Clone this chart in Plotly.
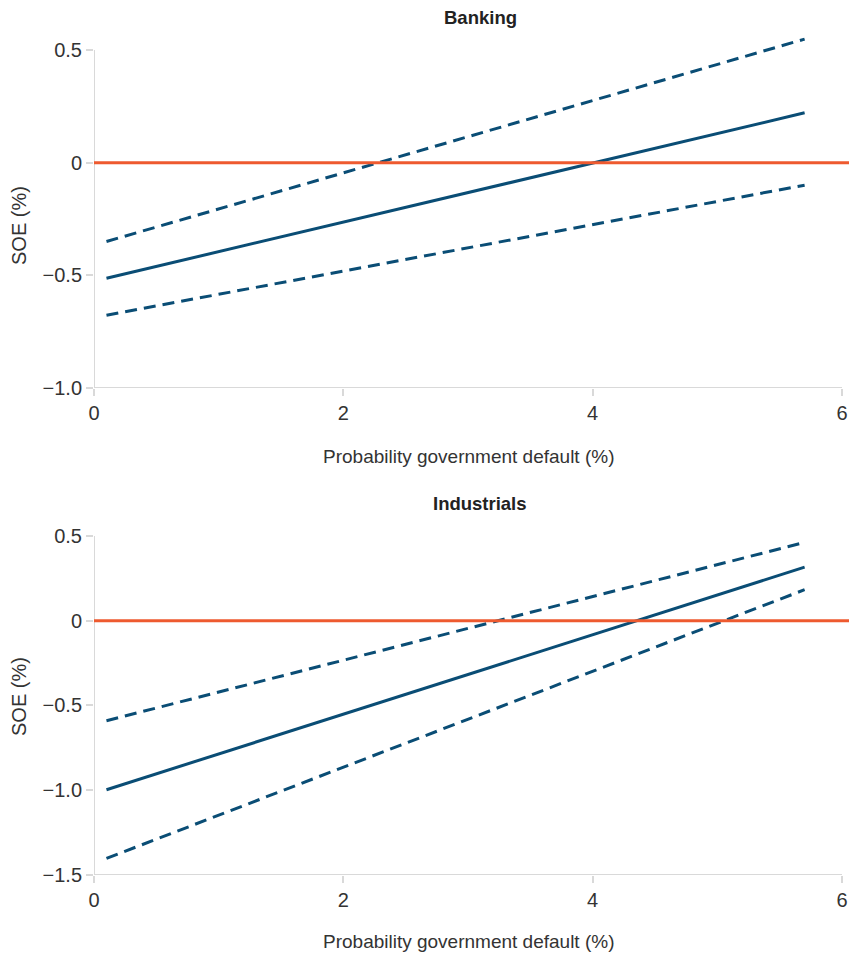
import plotly.graph_objects as go

# Data
x_pts = [0.1, 5.7]
bank_mid = [-0.513, 0.221]
bank_up = [-0.350, 0.548]
bank_lo = [-0.677, -0.100]
ind_mid = [-0.997, 0.316]
ind_up = [-0.590, 0.462]
ind_lo = [-1.402, 0.183]

panel_titles = ["Banking", "Industrials"]
x_title = "Probability government default (%)"
y_title = "SOE (%)"
x_ticks = [0, 2, 4, 6]
top_yticks = [-1.0, -0.5, 0, 0.5]
top_yticktext = ["\u22121.0", "\u22120.5", "0", "0.5"]
bot_yticks = [-1.5, -1.0, -0.5, 0, 0.5]
bot_yticktext = ["\u22121.5", "\u22121.0", "\u22120.5", "0", "0.5"]

BLUE = "#0a4d75"
ORANGE = "#ee5a2f"
GREY = "#d9d9d9"
FONT = "Liberation Sans, Arial, sans-serif"

W, H = 849, 953
L = 94
fig = go.Figure()

def add_panel(xa, ya, mid, up, lo):
    for vals, dash in [(up, "12px,7px"), (lo, "12px,7px"), (mid, "solid")]:
        fig.add_trace(go.Scatter(x=x_pts, y=vals, mode="lines", xaxis=xa, yaxis=ya,
                                 line=dict(color=BLUE, width=3, dash=dash),
                                 showlegend=False, hoverinfo="skip"))

add_panel("x", "y", bank_mid, bank_up, bank_lo)
add_panel("x2", "y2", ind_mid, ind_up, ind_lo)

def py(p):  # pixel (from top) to paper fraction
    return 1 - p / H

def pxx(p):  # pixel (from left) to paper fraction
    return (p - L) / (W - L)

tick_font = dict(size=20, color="#333333", family=FONT)
xcommon = dict(range=[0, 6.056], tickvals=x_ticks, ticks="outside", ticklen=7,
               tickcolor=GREY, tickwidth=2, showline=False, showgrid=False,
               zeroline=False, automargin=False, tickfont=tick_font)
ycommon = dict(ticks="outside", ticklen=7, tickcolor=GREY, tickwidth=2,
               showline=False, showgrid=False, zeroline=False, automargin=False,
               tickfont=tick_font)

fig.update_layout(
    width=W, height=H, autosize=False,
    margin=dict(l=L, r=0, t=0, b=0, pad=0),
    plot_bgcolor="white", paper_bgcolor="white",
    font=dict(family=FONT, size=20, color="#333333"),
    xaxis=dict(domain=[0, 1], anchor="y", **xcommon),
    yaxis=dict(domain=[py(388), py(27.4)], anchor="x", range=[-1.0, 0.6],
               tickvals=top_yticks, ticktext=top_yticktext, **ycommon),
    xaxis2=dict(domain=[0, 1], anchor="y2", **xcommon),
    yaxis2=dict(domain=[py(875), py(519)], anchor="x2", range=[-1.5, 0.6],
                tickvals=bot_yticks, ticktext=bot_yticktext, **ycommon),
)

shapes = []
for xr, yr, ymin, ymax in [("x", "y", -1.0, 0.5), ("x2", "y2", -1.5, 0.5)]:
    shapes.append(dict(type="line", xref=xr, yref=yr, x0=0, x1=0, y0=ymin, y1=ymax,
                       line=dict(color=GREY, width=2), layer="below"))
    shapes.append(dict(type="line", xref=xr, yref=yr, x0=0, x1=6, y0=ymin, y1=ymin,
                       line=dict(color=GREY, width=2), layer="below"))
    shapes.append(dict(type="line", xref=xr + " domain", yref=yr, x0=0, x1=1, y0=0, y1=0,
                       line=dict(color=ORANGE, width=3), layer="above"))
fig.update_layout(shapes=shapes)

def ann(text, x, y, size, angle=0, color="#333333"):
    return dict(text=text, x=pxx(x), y=py(y), xref="paper", yref="paper",
                showarrow=False, textangle=angle, xanchor="center", yanchor="middle",
                font=dict(size=size, family=FONT, color=color))

annotations = [
    ann("<b>" + panel_titles[0] + "</b>", 480, 18, 18.5, color="#222222"),
    ann("<b>" + panel_titles[1] + "</b>", 480, 503, 18.5, color="#222222"),
    ann(x_title, 468, 456, 19),
    ann(x_title, 468, 941, 19),
    ann(y_title, 19, 226, 20, angle=-90),
    ann(y_title, 19, 697, 20, angle=-90),
]
fig.update_layout(annotations=annotations)

fig.write_html("out.html")
